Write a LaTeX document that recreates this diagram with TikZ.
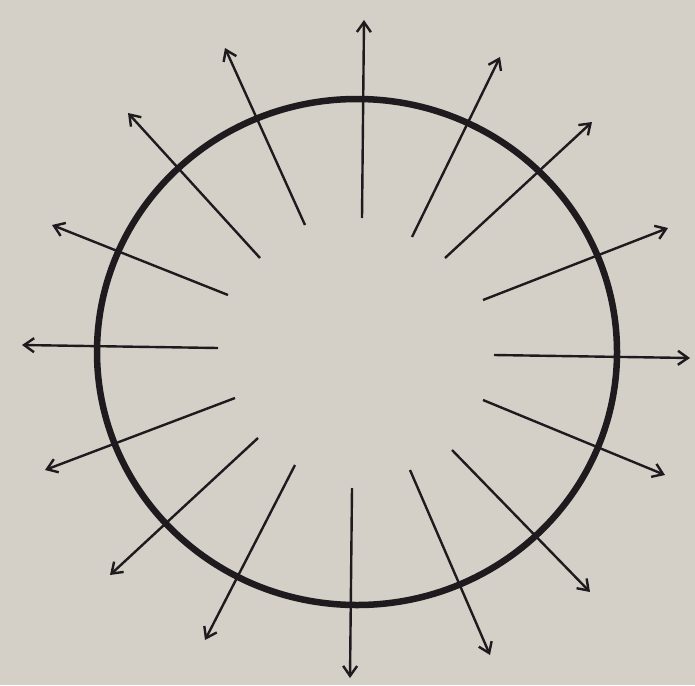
\documentclass[tikz,border=0pt]{standalone}
\usetikzlibrary{arrows.meta,shapes.geometric}
\definecolor{paper}{RGB}{212,207,199}
\definecolor{ink}{RGB}{30,26,30}
\begin{document}
\begin{tikzpicture}[x=1pt,y=-1pt,
  ray/.style={draw=ink,line width=2.4pt,-{Straight Barb[length=10pt,width=14pt,line width=2.4pt]}},
  ring/.style={draw=ink,line width=6.5pt}]
\fill[paper] (0,0) rectangle (695,685);
\useasboundingbox (0,0) rectangle (695,685);
\node[ring,ellipse,minimum width=520pt,minimum height=506pt,inner sep=0pt] (c) at (357,352) {};
\foreach \i/\sx/\sy/\ex/\ey in {
 1/362/218/364/20,
 2/412/237/500/57,
 3/445/258/592/122,
 4/483/300/668/228,
 5/494/355/690/358,
 6/483/400/665/475,
 7/452/450/590/592,
 8/410/470/490/655,
 9/352/488/350/678,
 10/295/465/205/640,
 11/258/438/110/575,
 12/235/398/45/470,
 13/218/348/22/345,
 14/228/295/52/225,
 15/260/258/128/113,
 16/305/225/225/48}{
  \coordinate (s\i) at (\sx,\sy);
  \coordinate (e\i) at (\ex,\ey);
  \draw[ray] (s\i) -- (e\i);
}
\end{tikzpicture}
\end{document}
